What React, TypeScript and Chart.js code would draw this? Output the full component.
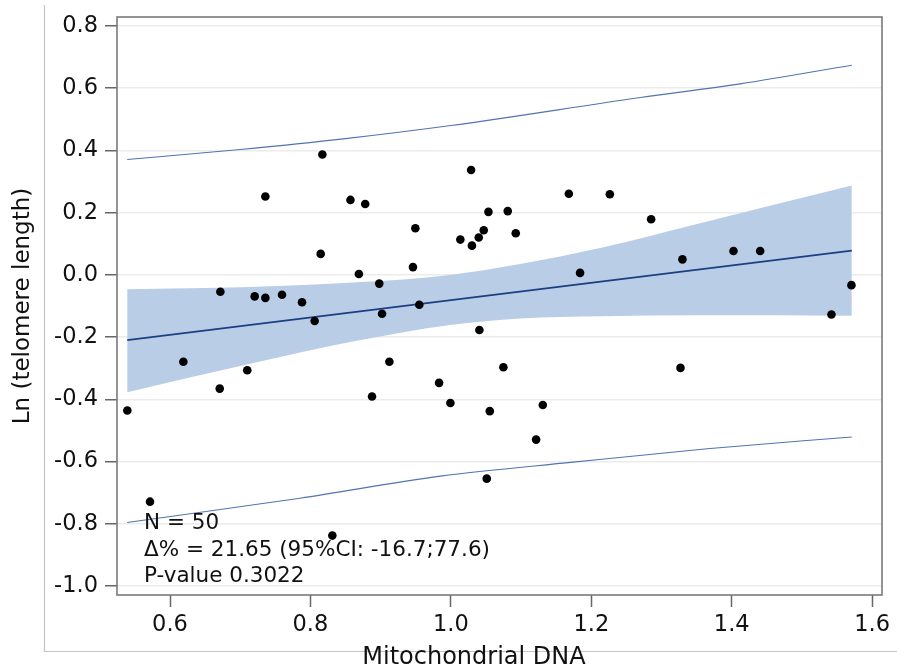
import React, { useEffect, useRef } from "react";
import { Chart, registerables } from "chart.js";

Chart.register(...registerables);

// ---- Data ----
const mtDNA = [
  0.7358, 0.6717, 0.7206, 0.7358, 0.7595, 0.788, 0.806, 0.817, 0.857, 0.878,
  0.8146, 0.9494, 0.869, 0.898, 0.946, 0.902, 0.955, 1.0288, 1.0135, 1.03,
  1.0397, 1.0468, 1.0535, 1.081, 1.0406, 1.0924, 1.168, 1.2264, 1.2852, 1.184,
  1.3298, 1.4025, 1.4405, 1.5705, 1.542, 0.619, 0.71, 0.6708, 0.5392, 0.5715,
  0.9124, 0.8877, 0.9832, 0.9993, 1.0554, 1.0748, 1.0511, 0.8312, 1.1309, 1.1214,
  1.327,
];
const lnTelomere = [
  0.252, -0.054, -0.069, -0.074, -0.064, -0.088, -0.148, 0.387, 0.241, 0.228,
  0.0675, 0.15, 0.003, -0.028, 0.025, -0.125, -0.096, 0.337, 0.1135, 0.094,
  0.12, 0.1437, 0.2026, 0.205, -0.177, 0.134, 0.261, 0.259, 0.179, 0.0064,
  0.05, 0.077, 0.077, -0.033, -0.1275, -0.279, -0.3065, -0.3655, -0.436, -0.729,
  -0.279, -0.391, -0.347, -0.4116, -0.438, -0.297, -0.655, -0.838, -0.418, -0.5295,
  -0.299,
];

const fitX = [0.539, 1.571];
const fitY = [-0.21, 0.078];

const bandX = [0.539, 0.714, 0.866, 0.999, 1.0986, 1.2125, 1.355, 1.571];
const bandUpper = [-0.046, -0.039, -0.024, 0.0, 0.035, 0.0865, 0.166, 0.287];
const bandLower = [-0.377, -0.286, -0.212, -0.161, -0.14, -0.133, -0.13, -0.131];

const predUpperX = [0.539, 0.7, 0.85, 1.0, 1.27, 1.412, 1.571];
const predUpperY = [0.371, 0.403, 0.438, 0.48, 0.57, 0.614, 0.674];
const predLowerX = [0.539, 0.785, 0.985, 1.174, 1.365, 1.571];
const predLowerY = [-0.796, -0.718, -0.647, -0.602, -0.559, -0.521];

const xTicks = [0.6, 0.8, 1.0, 1.2, 1.4, 1.6];
const yTicks = [-1.0, -0.8, -0.6, -0.4, -0.2, 0.0, 0.2, 0.4, 0.6, 0.8];

const xTitle = "Mitochondrial DNA";
const yTitle = "Ln (telomere length)";
const annotationLines = ["N = 50", "\u0394% = 21.65 (95%CI: -16.7;77.6)", "P-value 0.3022"];

const FONT = "'DejaVu Sans', 'Liberation Sans', Arial, sans-serif";

const pairs = (xs: number[], ys: number[]) => xs.map((x, i) => ({ x, y: ys[i] }));

const decorPlugin = {
  id: "decor",
  afterDraw(chart: any) {
    const { ctx, chartArea } = chart;
    const { left, right, top, bottom } = chartArea;
    ctx.save();
    // outer frame (left and bottom)
    ctx.strokeStyle = "#c4c4c4";
    ctx.lineWidth = 1.2;
    ctx.beginPath();
    ctx.moveTo(44.5, 5);
    ctx.lineTo(44.5, 651.5);
    ctx.lineTo(897, 651.5);
    ctx.stroke();
    // plot border
    ctx.strokeStyle = "#7a7a7a";
    ctx.lineWidth = 1.6;
    ctx.strokeRect(left, top, right - left, bottom - top);
    // x title
    ctx.fillStyle = "#111";
    ctx.font = `24px ${FONT}`;
    ctx.textAlign = "center";
    ctx.textBaseline = "alphabetic";
    ctx.fillText(xTitle, 474, 664);
    // annotation
    ctx.font = `21.5px ${FONT}`;
    ctx.textAlign = "left";
    const ax = left + 27;
    let ay = 529;
    annotationLines.forEach((t) => {
      ctx.fillText(t, ax, ay);
      ay += 26.5;
    });
    ctx.restore();
  },
};

export default function App() {
  const ref = useRef<HTMLCanvasElement | null>(null);
  useEffect(() => {
    document.body.style.margin = "0";
    if (!ref.current) return;
    const tickFont = { family: FONT, size: 22.5 };
    const curve = { cubicInterpolationMode: "monotone" as const };
    const chart = new Chart(ref.current, {
      type: "scatter",
      data: {
        datasets: [
          {
            type: "scatter",
            label: "obs",
            data: pairs(mtDNA, lnTelomere),
            backgroundColor: "#000",
            borderWidth: 0,
            pointRadius: 4.3,
            order: 0,
          } as any,
          {
            type: "line",
            label: "fit",
            data: pairs(fitX, fitY),
            borderColor: "#1b3f82",
            borderWidth: 1.8,
            pointRadius: 0,
            fill: false,
            order: 1,
          } as any,
          {
            type: "line",
            label: "predUpper",
            data: pairs(predUpperX, predUpperY),
            borderColor: "#5173b0",
            borderWidth: 1.1,
            pointRadius: 0,
            fill: false,
            order: 2,
            ...curve,
          } as any,
          {
            type: "line",
            label: "predLower",
            data: pairs(predLowerX, predLowerY),
            borderColor: "#5173b0",
            borderWidth: 1.1,
            pointRadius: 0,
            fill: false,
            order: 2,
            ...curve,
          } as any,
          {
            type: "line",
            label: "bandLower",
            data: pairs(bandX, bandLower),
            borderWidth: 0,
            borderColor: "rgba(0,0,0,0)",
            pointRadius: 0,
            fill: false,
            order: 3,
            ...curve,
          } as any,
          {
            type: "line",
            label: "bandUpper",
            data: pairs(bandX, bandUpper),
            borderWidth: 0,
            borderColor: "rgba(0,0,0,0)",
            backgroundColor: "#b9cde6",
            pointRadius: 0,
            fill: 4,
            order: 3,
            ...curve,
          } as any,
        ],
      },
      options: {
        animation: false,
        responsive: false,
        events: [],
        layout: { padding: { left: 0, top: 17, right: 15, bottom: 0 } },
        plugins: {
          legend: { display: false },
          tooltip: { enabled: false },
          title: { display: false },
        },
        scales: {
          x: {
            type: "linear",
            min: 0.5245,
            max: 1.614,
            afterBuildTicks: (s: any) => {
              s.ticks = xTicks.map((v) => ({ value: v }));
            },
            afterFit: (s: any) => {
              s.height = 75;
              s.paddingLeft = 0;
              s.paddingRight = 0;
            },
            ticks: {
              callback: (v: any) => Number(v).toFixed(1),
              font: tickFont,
              color: "#111",
              padding: 5,
              autoSkip: false,
              maxRotation: 0,
            },
            grid: {
              drawOnChartArea: false,
              drawTicks: true,
              tickLength: 12,
              tickColor: "#666",
              tickWidth: 1.5,
            },
            border: { display: false },
          },
          y: {
            type: "linear",
            min: -1.029,
            max: 0.829,
            afterBuildTicks: (s: any) => {
              s.ticks = yTicks.map((v) => ({ value: v }));
            },
            afterFit: (s: any) => {
              s.width = 117;
              s.paddingTop = 0;
              s.paddingBottom = 0;
            },
            ticks: {
              callback: (v: any) => Number(v).toFixed(1),
              font: tickFont,
              color: "#111",
              padding: 7,
              autoSkip: false,
            },
            grid: {
              color: "#ececec",
              lineWidth: 1.5,
              drawTicks: true,
              tickLength: 12,
              tickColor: "#666",
              tickWidth: 1.5,
            },
            border: { display: false },
            title: {
              display: true,
              text: yTitle,
              color: "#111",
              font: { family: FONT, size: 23 },
              padding: { top: 9, bottom: 0 },
            },
          },
        },
      },
      plugins: [decorPlugin],
    });
    return () => chart.destroy();
  }, []);
  return (
    <div style={{ width: 897, height: 670, background: "#fff" }}>
      <canvas ref={ref} width={897} height={670} style={{ display: "block" }} />
    </div>
  );
}
